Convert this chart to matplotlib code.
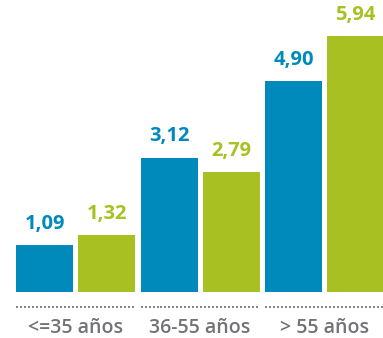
import matplotlib
matplotlib.use("Agg")
import matplotlib.pyplot as plt
import numpy as np

categories = ["<=35 años", "36-55 años", "> 55 años"]
serie_azul = [1.09, 3.12, 4.90]
serie_verde = [1.32, 2.79, 5.94]
etiquetas_azul = ["1,09", "3,12", "4,90"]
etiquetas_verde = ["1,32", "2,79", "5,94"]

AZUL = "#0089bb"
VERDE = "#a9c022"
GRIS = "#727376"

W, H = 383, 338
fig = plt.figure(figsize=(W / 100, H / 100), dpi=100)
px_unit = 124.5          # pixels per group
px_val = 43.1            # pixels per value unit
base_px = 292            # baseline from top
ax = fig.add_axes([0, (H - base_px) / H, 1, base_px / H])
ax.set_xlim(-75.5 / px_unit, (W - 75.5) / px_unit)
ax.set_ylim(0, base_px / px_val)
ax.axis("off")

x = np.arange(len(categories))
bw = 57 / px_unit
off = 31 / px_unit
font = ["Open Sans", "DejaVu Sans"]

b1 = ax.bar(x - off, serie_azul, width=bw, color=AZUL)
b2 = ax.bar(x + off, serie_verde, width=bw, color=VERDE)

for bars, labels, col in ((b1, etiquetas_azul, AZUL), (b2, etiquetas_verde, VERDE)):
    for r, lab in zip(bars, labels):
        ax.annotate(lab, (r.get_x() + r.get_width() / 2, r.get_height()),
                    xytext=(0, 8), textcoords="offset points",
                    ha="center", va="bottom", fontsize=14.5, fontweight="bold",
                    color=col, family=font)

# dotted separator under each group
y_dot = -(307 - base_px) / px_val
for xi in x:
    xs = np.arange(xi - off - bw / 2 + 1 / px_unit, xi + off + bw / 2, 4.0 / px_unit)
    ax.plot(xs, np.full_like(xs, y_dot), linestyle="none", marker="s",
            markersize=1.6, markeredgewidth=0, color="#858689", clip_on=False)

y_lab = -(328 - base_px) / px_val
for xi, c in zip(x, categories):
    ax.text(xi, y_lab, c, ha="center", va="center", fontsize=14,
            fontweight="semibold", color=GRIS, family=font, clip_on=False)

fig.savefig("out.png", dpi=100)
